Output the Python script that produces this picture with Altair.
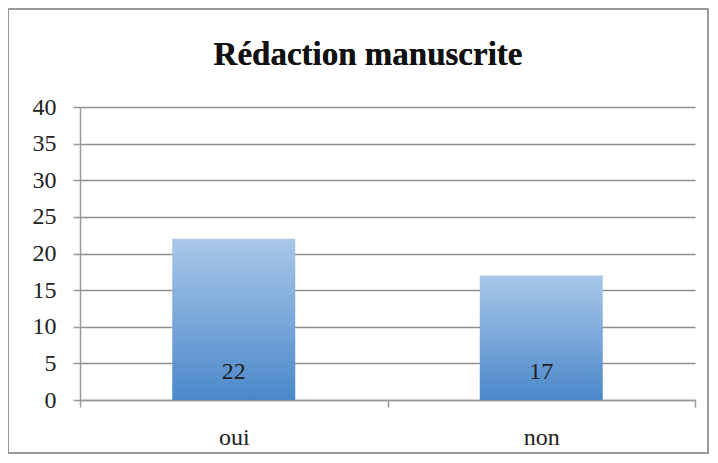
import altair as alt
import pandas as pd

categories = ["oui", "non"]
values = [22, 17]
y_ticks = [0, 5, 10, 15, 20, 25, 30, 35, 40]
title_text = "Rédaction manuscrite"

df = pd.DataFrame({"cat": categories, "val": values})

FONT = "Liberation Serif"
GRAY = "#9a9a9a"

xscale = alt.Scale(paddingInner=0, paddingOuter=0)
yscale = alt.Scale(domain=[0, 40], nice=False)

xaxis = alt.Axis(labelAngle=0, labelFontSize=24, labelColor="#222222",
                 labelFont=FONT, labelPadding=18, tickBand="extent",
                 ticks=True, tickSize=7, tickColor=GRAY, tickWidth=1.5,
                 domainColor=GRAY, domainWidth=1.5, grid=False)
yaxis = alt.Axis(values=y_ticks, labelOverlap=False,
                 labelFontSize=24, labelColor="#222222", labelFont=FONT,
                 labelPadding=17, tickSize=7, tickColor=GRAY, tickWidth=1.5,
                 domainColor=GRAY, domainWidth=1.5,
                 grid=True, gridColor="#8e8e8e", gridWidth=1.5)

grad = alt.LinearGradient(gradient="linear",
                          stops=[alt.GradientStop(color="#a9c7e9", offset=0),
                                 alt.GradientStop(color="#4b88ca", offset=1)],
                          x1=0, x2=0, y1=0, y2=1)

bars = alt.Chart(df).mark_bar(color=grad, width=alt.RelativeBandSize(0.4)).encode(
    x=alt.X("cat:N", sort=categories, title=None, scale=xscale, axis=xaxis),
    y=alt.Y("val:Q", title=None, scale=yscale, axis=yaxis))

labels = alt.Chart(df).transform_calculate(z="0").mark_text(
    font=FONT, fontSize=24, color="#222222", baseline="middle", dy=-28).encode(
    x=alt.X("cat:N", sort=categories, title=None, scale=xscale, axis=xaxis),
    y=alt.Y("z:Q", title=None, scale=yscale, axis=yaxis),
    text="val:Q")

frame = alt.Chart(df).mark_rect(fill=None, stroke=GRAY, strokeWidth=2,
                                clip=False).encode(
    x=alt.value(-72), x2=alt.value(628), y=alt.value(-98), y2=alt.value(346))

title = alt.Chart(df).mark_text(text=title_text, font=FONT, fontSize=33,
                                fontWeight="bold", color="#111111",
                                align="center", baseline="middle").encode(
    x=alt.value(288), y=alt.value(-52))

chart = alt.layer(frame, bars, labels, title).properties(
    width=615, height=293,
    autosize=alt.AutoSizeParams(type="none"),
    padding={"left": 72, "top": 99, "right": 15, "bottom": 55},
).configure_view(stroke=None)

chart.save("out.html", embed_options={"renderer": "svg", "actions": False})
